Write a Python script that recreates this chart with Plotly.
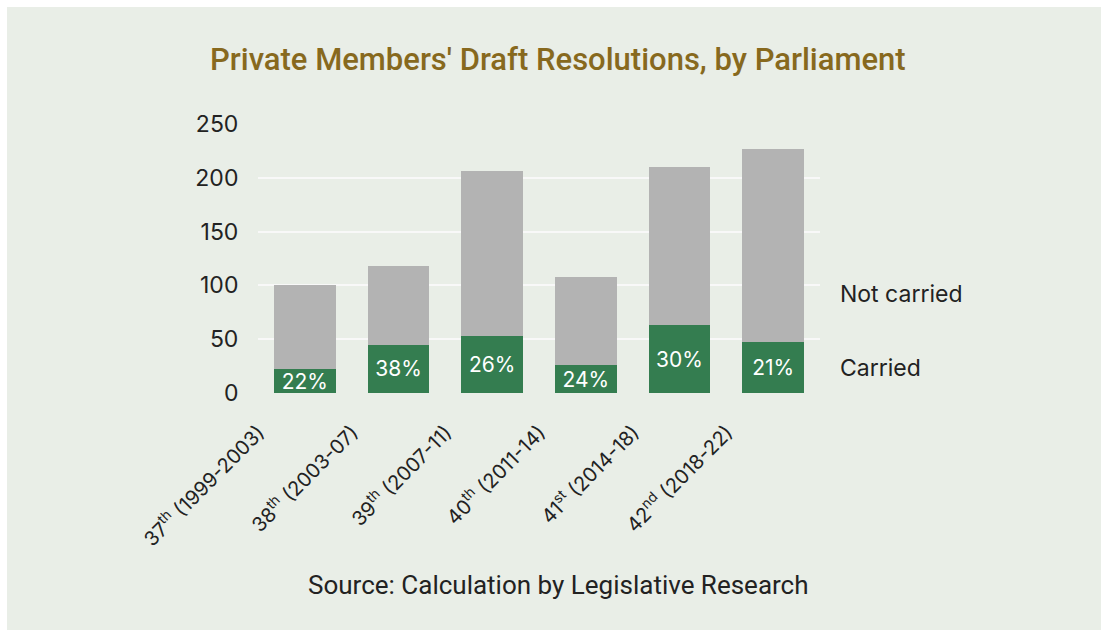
import plotly.graph_objects as go

categories = ["37<sup>th</sup> (1999-2003)", "38<sup>th</sup> (2003-07)", "39<sup>th</sup> (2007-11)",
              "40<sup>th</sup> (2011-14)", "41<sup>st</sup> (2014-18)", "42<sup>nd</sup> (2018-22)"]
totals = [100, 118, 206, 108, 210, 227]
carried = [22, 45, 53, 26, 63, 47]
not_carried = [t - c for t, c in zip(totals, carried)]
pct_labels = [f"{round(c / t * 100)}%" for c, t in zip(carried, totals)]
y_ticks = [0, 50, 100, 150, 200, 250]

BG = "#e9eee7"
GREEN = "#347d50"
GRAY = "#b3b3b3"
TITLE_C = "#87691e"
TXT = "#222222"
FONT = "Inter, Liberation Sans, sans-serif"

W, H = 1101, 630
L, R, T, B = 258, 281, 124, 237
pw, ph = W - L - R, H - T - B

def px_x(p):
    return (p - L) / pw

def px_y(p):
    return (H - B - p) / ph

fig = go.Figure()
fig.add_trace(go.Bar(x=categories, y=carried, name="Carried", marker=dict(color=GREEN, line=dict(width=0)),
                     text=pct_labels, textposition="inside", insidetextanchor="middle",
                     textangle=0, constraintext="none",
                     textfont=dict(color="white", size=21, family=FONT), hoverinfo="skip"))
fig.add_trace(go.Bar(x=categories, y=not_carried, name="Not carried",
                     marker=dict(color=GRAY, line=dict(width=0)), hoverinfo="skip"))

border = [
    dict(text=" ", xref="paper", yref="paper", x=px_x(0), y=px_y(0), xanchor="left", yanchor="top",
         width=7, height=H, bgcolor="white", borderpad=0, borderwidth=0, showarrow=False,
         font=dict(size=1)),
    dict(text=" ", xref="paper", yref="paper", x=px_x(0), y=px_y(0), xanchor="left", yanchor="top",
         width=W, height=7, bgcolor="white", borderpad=0, borderwidth=0, showarrow=False,
         font=dict(size=1)),
]

fig.update_layout(
    width=W, height=H, barmode="stack", bargap=0.34, showlegend=False,
    margin=dict(l=L, r=R, t=T, b=B, autoexpand=False),
    paper_bgcolor=BG, plot_bgcolor=BG,
    font=dict(family=FONT, color=TXT),
    xaxis=dict(tickangle=-45, tickfont=dict(size=20, color=TXT, family=FONT), showgrid=False,
               zeroline=False, showline=False, ticks="", ticklabelshift=-46, ticklabelstandoff=23),
    yaxis=dict(range=[0, 250], tickvals=y_ticks, tickfont=dict(size=23, color=TXT, family=FONT),
               gridcolor="#f8f8f8", gridwidth=2, zeroline=False, showline=False,
               ticks="outside", ticklen=14, tickcolor="rgba(0,0,0,0)"),
    annotations=border + [
        dict(text="Private Members' Draft Resolutions, by Parliament", xref="paper", yref="paper",
             x=px_x(558), y=px_y(60), xanchor="center", yanchor="middle", showarrow=False,
             font=dict(size=31, color=TITLE_C, family="Roboto, sans-serif", weight=500)),
        dict(text="Source: Calculation by Legislative Research", xref="paper", yref="paper",
             x=px_x(558), y=px_y(585), xanchor="center", yanchor="middle", showarrow=False,
             font=dict(size=26, color=TXT, family="Roboto, sans-serif")),
        dict(text="Not carried", xref="paper", yref="y", x=px_x(838), y=92,
             xanchor="left", yanchor="middle", showarrow=False, font=dict(size=23, color=TXT)),
        dict(text="Carried", xref="paper", yref="y", x=px_x(838), y=carried[-1] / 2,
             xanchor="left", yanchor="middle", showarrow=False, font=dict(size=23, color=TXT)),
    ],
)

fig.write_html("out.html")
